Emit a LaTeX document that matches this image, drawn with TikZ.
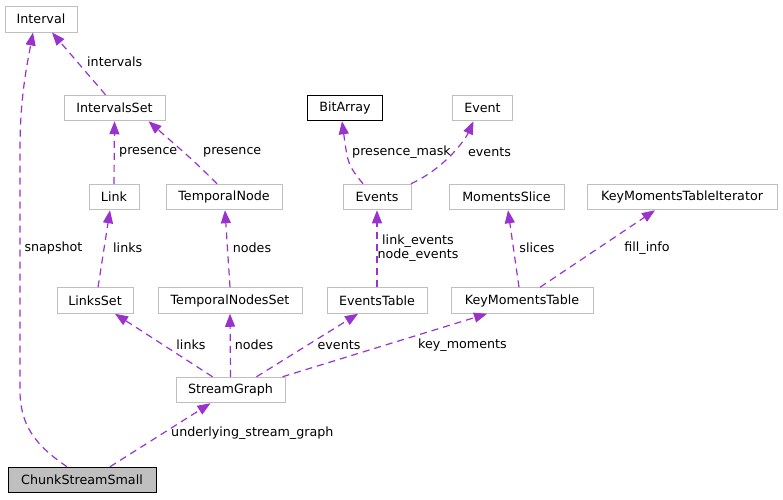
\documentclass[tikz,border=0pt]{standalone}
\usepackage{fontspec}
\setmainfont{DejaVu Sans}
\usetikzlibrary{arrows.meta,positioning}
\definecolor{edgepurple}{HTML}{9A32CD}
\definecolor{boxgray}{HTML}{BFBFBF}

\begin{document}
\begin{tikzpicture}[
			x=1pt, y=-1pt,
			font=\fontsize{12.7}{14}\selectfont,
			classbox/.style={rectangle, draw=boxgray, line width=1pt, minimum height=25.5pt, inner sep=0pt},
			usage/.style={draw=edgepurple, line width=1.2pt, dash pattern=on 7pt off 5pt, -{Triangle[length=13pt,width=10pt]}},
			lbl/.style={inner sep=0pt}
	]
		\fill[white] (0,0) rectangle (783,499);
		\useasboundingbox (0,0) rectangle (783,499);
	
		\node (interval) [classbox, minimum width=72pt, minimum height=26pt] at (41,19) {Interval};
		\node (intervalsset) [classbox, minimum width=101pt] at (114.5,108) {IntervalsSet};
		\node (bitarray) [classbox, draw=black, minimum width=75pt] at (345,108) {BitArray};
		\node (event) [classbox, minimum width=60pt] at (482.5,108) {Event};
		\node (link) [classbox, minimum width=50pt] at (114,197) {Link};
		\node (temporalnode) [classbox, minimum width=116pt] at (224,197) {TemporalNode};
		\node (events) [classbox, minimum width=68pt] at (377,197) {Events};
		\node (momentsslice) [classbox, minimum width=115pt] at (506.5,197) {MomentsSlice};
		\node (kmtiterator) [classbox, minimum width=190pt] at (682,197) {KeyMomentsTableIterator};
		\node (linksset) [classbox, minimum width=76pt] at (95,300.5) {LinksSet};
		\node (tnodesset) [classbox, minimum width=144pt] at (230,300.5) {TemporalNodesSet};
		\node (eventstable) [classbox, minimum width=100pt] at (377,300.5) {EventsTable};
		\node (kmtable) [classbox, minimum width=142pt] at (522,300.5) {KeyMomentsTable};
		\node (streamgraph) [classbox, minimum width=109pt] at (230.5,390) {StreamGraph};
		\node (chunk) [classbox, draw=black, fill=boxgray, minimum width=148pt] at (82,480) {ChunkStreamSmall};
		
		\draw [usage] ([xshift=-15pt]chunk.north) .. controls (35,445) and (20,425) .. (20,390) -- (20,150) .. controls (20,100) and (26,70) .. ([xshift=-8pt]interval.south);
		\draw [usage] ([xshift=28pt]chunk.north) -- ([xshift=-20pt]streamgraph.south);
		\draw [usage] ([xshift=-18pt]streamgraph.north) -- ([xshift=20pt]linksset.south);
		\draw [usage] (streamgraph.north) -- (tnodesset.south);
		\draw [usage] ([xshift=26pt]streamgraph.north) -- ([xshift=-19pt]eventstable.south);
		\draw [usage] ([xshift=52pt]streamgraph.north) -- ([xshift=-35pt]kmtable.south);
		\draw [usage] ([xshift=3pt]linksset.north) -- ([xshift=-4pt]link.south);
		\draw [usage] (link.north) -- (intervalsset.south);
		\draw [usage] ([xshift=-7pt]temporalnode.north) .. controls (195,162) .. ([xshift=34pt]intervalsset.south);
		\draw [usage] ([xshift=-9pt]intervalsset.north) -- ([xshift=11pt]interval.south);
		\draw [usage] (tnodesset.north) -- ([xshift=1pt]temporalnode.south);
		\draw [usage] (eventstable.north) -- (events.south);
		\draw [usage] ([xshift=-14pt]events.north) .. controls (348,165) .. ([xshift=-3pt]bitarray.south);
		\draw [usage] ([xshift=34pt]events.north) .. controls (445,168) and (465,140) .. ([xshift=-9pt]event.south);
		\draw [usage] ([xshift=-3pt]kmtable.north) -- ([xshift=1.5pt]momentsslice.south);
		\draw [usage] ([xshift=18pt]kmtable.north) -- ([xshift=-27pt]kmtiterator.south);
		
		\node (lsnapshot) [lbl] at (53.5,248) {snapshot};
		\node (lunderlying) [lbl, anchor=west] at (171,433) {underlying\_stream\_graph};
		\node (llinks) [lbl] at (191,345) {links};
		\node (lnodes) [lbl] at (254,345) {nodes};
		\node (levents) [lbl] at (339,345) {events};
		\node (lkeymoments) [lbl] at (462.5,345) {key\_moments};
		\node (llinksup) [lbl, anchor=west] at (113,248) {links};
		\node (lpresence) [lbl, anchor=west] at (119,152) {presence};
		\node (lpresencetn) [lbl, anchor=west] at (203,152) {presence};
		\node (lintervals) [lbl, anchor=west] at (87,62) {intervals};
		\node (lnodesup) [lbl] at (252,248) {nodes};
		\node (leventlists) [lbl, align=center] at (418,248) {link\_events\\node\_events};
		\node (lpresmask) [lbl] at (401.5,152) {presence\_mask};
		\node (leventsup) [lbl] at (489.5,152) {events};
		\node (lslices) [lbl] at (537,248) {slices};
		\node (lfillinfo) [lbl] at (647,248) {fill\_info};
	\end{tikzpicture}
\end{document}
